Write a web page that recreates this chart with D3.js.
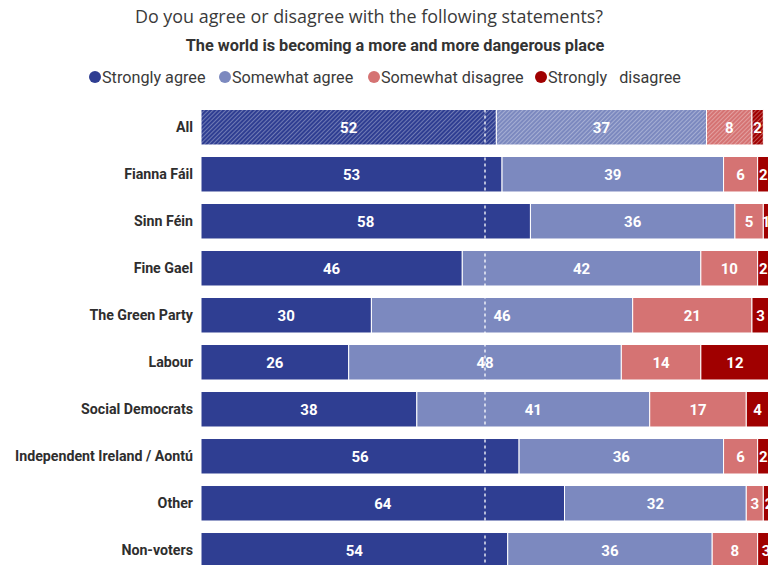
<!DOCTYPE html>
<html>
<head>
<meta charset="utf-8">
<script src="https://cdn.jsdelivr.net/npm/d3@7"></script>
<style>
  body { margin: 0; background: #fff; }
  svg { display: block; }
  text { font-family: Roboto, "Noto Sans", sans-serif; }
</style>
</head>
<body>
<div id="chart"></div>
<script>
// categories (rows) and the four answer series, in percent
var categories = ["All", "Fianna Fáil", "Sinn Féin", "Fine Gael", "The Green Party", "Labour",
  "Social Democrats", "Independent Ireland / Aontú", "Other", "Non-voters"];
var stronglyAgree    = [52, 53, 58, 46, 30, 26, 38, 56, 64, 54];
var somewhatAgree    = [37, 39, 36, 42, 46, 48, 41, 36, 32, 36];
var somewhatDisagree = [8, 6, 5, 10, 21, 14, 17, 6, 3, 8];
var stronglyDisagree = [2, 2, 1, 2, 3, 12, 4, 2, 2, 3];

var seriesNames = ["Strongly agree", "Somewhat agree", "Somewhat disagree", "Strongly   disagree"];
var seriesColors = ["#2f3e92", "#7c89bf", "#d57373", "#a00000"];

var svgWidth = 768, svgHeight = 565;

var svg = d3.select("#chart").append("svg")
  .attr("width", svgWidth)
  .attr("height", svgHeight);

// hatch patterns for the "All" row
var defs = svg.append("defs");
seriesColors.forEach(function(c, i) {
  var p = defs.append("pattern")
    .attr("id", "hatch" + i)
    .attr("patternUnits", "userSpaceOnUse")
    .attr("width", 3).attr("height", 3)
    .attr("patternTransform", "rotate(45)");
  p.append("rect").attr("width", 3).attr("height", 3).attr("fill", c);
  p.append("line").attr("x1", 0).attr("y1", 0).attr("x2", 0).attr("y2", 3)
    .attr("stroke", "#fff").attr("stroke-width", 1.4).attr("stroke-opacity", 0.45);
});

// titles
svg.append("text")
  .attr("x", 369).attr("y", 23)
  .attr("text-anchor", "middle")
  .style("font-family", "'Open Sans', sans-serif")
  .style("font-size", "17.9px")
  .attr("fill", "#3a3a3a")
  .text("Do you agree or disagree with the following statements?");

svg.append("text")
  .attr("x", 395).attr("y", 51)
  .attr("text-anchor", "middle")
  .style("font-size", "16.3px")
  .style("font-weight", "bold")
  .attr("fill", "#333")
  .text("The world is becoming a more and more dangerous place");

// legend
var legendX = [95, 225, 374, 541];
var legend = svg.append("g");
seriesNames.forEach(function(n, i) {
  legend.append("circle")
    .attr("cx", legendX[i]).attr("cy", 77).attr("r", 6)
    .attr("fill", seriesColors[i]);
  legend.append("text")
    .attr("x", legendX[i] + 7).attr("y", 82.5)
    .style("font-size", "16.2px")
    .style("white-space", "pre")
    .attr("fill", "#3a3a3a")
    .text(n);
});

// scales
var xScale = d3.scaleLinear().domain([0, 100]).range([201, 769]);
var yScale = d3.scaleBand().domain(categories).range([109.5, 568]).paddingInner(0.245).paddingOuter(0);

var rows = categories.map(function(c, i) {
  return { cat: c, v: [stronglyAgree[i], somewhatAgree[i], somewhatDisagree[i], stronglyDisagree[i]] };
});

var segs = [];
rows.forEach(function(r, ri) {
  var acc = 0;
  r.v.forEach(function(v, si) {
    segs.push({ cat: r.cat, row: ri, s: si, x0: acc, x1: acc + v, v: v });
    acc += v;
  });
});

var chartGroup = svg.append("g");

chartGroup.selectAll(".bar")
  .data(segs)
  .enter()
  .append("rect")
  .attr("x", d => xScale(d.x0))
  .attr("y", d => yScale(d.cat))
  .attr("width", d => xScale(d.x1) - xScale(d.x0))
  .attr("height", yScale.bandwidth())
  .attr("fill", d => d.row === 0 ? "url(#hatch" + d.s + ")" : seriesColors[d.s])
  .attr("stroke", "#fff")
  .attr("stroke-width", 1);

// 50% dashed line
chartGroup.append("line")
  .attr("x1", xScale(50)).attr("x2", xScale(50))
  .attr("y1", yScale(categories[0]))
  .attr("y2", svgHeight)
  .attr("stroke", "#fff")
  .attr("stroke-width", 1.3)
  .attr("stroke-dasharray", "3,3");

// value labels
chartGroup.selectAll(".val")
  .data(segs)
  .enter()
  .append("text")
  .attr("x", d => (xScale(d.x0) + xScale(d.x1)) / 2)
  .attr("y", d => yScale(d.cat) + yScale.bandwidth() / 2 + 5.5)
  .attr("text-anchor", "middle")
  .style("font-size", "15px")
  .style("font-weight", "bold")
  .attr("fill", "#fff")
  .text(d => d.v);

// category labels
var yAxis = d3.axisLeft(yScale).tickSize(0).tickPadding(8);
var axisG = svg.append("g")
  .attr("transform", "translate(201,0)")
  .call(yAxis);
axisG.select(".domain").remove();
axisG.selectAll("text")
  .style("font-family", "Roboto, sans-serif")
  .style("font-size", "14.2px")
  .style("font-weight", "bold")
  .attr("fill", "#2e2e2e");
</script>
</body>
</html>
